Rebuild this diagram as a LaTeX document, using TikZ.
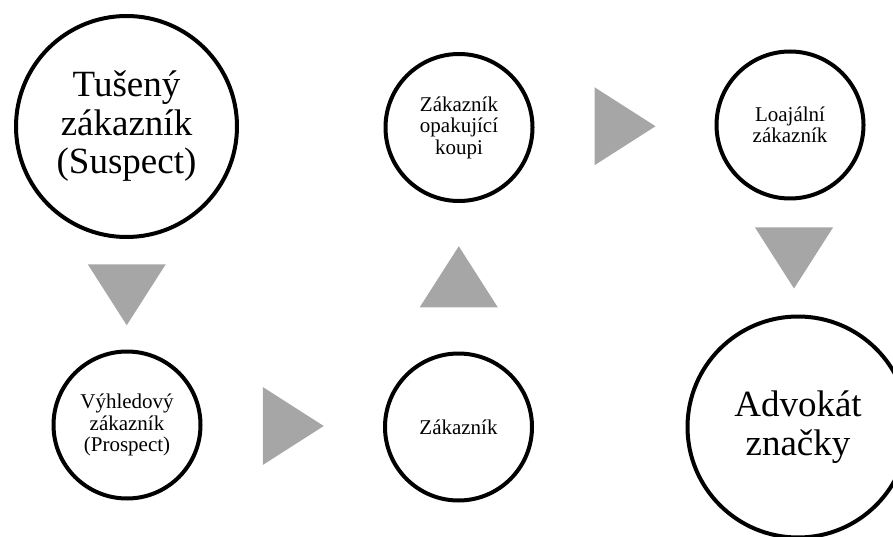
\documentclass[tikz,border=0pt]{standalone}
\usepackage{fontspec}
\setmainfont{Liberation Serif}
\usepackage{xcolor}
\usetikzlibrary{calc}
\definecolor{stepgray}{HTML}{A6A6A6}

\begin{document}
\begin{tikzpicture}[
    x=1pt, y=1pt,
    stage/.style={
      circle, draw, line width=4pt,
      inner sep=0pt, align=center, fill=white
    },
    bigstage/.style={
      stage, minimum size=221pt,
      font=\fontsize{37}{38.5}\selectfont
    },
    smallstage/.style={
      stage, minimum size=147pt,
      font=\fontsize{21}{21.5}\selectfont
    },
    pointer/.pic={
      \fill[stepgray] (-30,-39) -- (31,0) -- (-30,39) -- cycle;
    },
  ]

  % --- Canvas ---
  \useasboundingbox (0,0) rectangle (893,536);

  % --- Nodes ---
  \node[bigstage] (suspect) at (126.5, 409.5)
    {Tušený\\zákazník\\(Suspect)};
  \node[smallstage] (prospect) at (127, 111)
    {Výhledový\\zákazník\\(Prospect)};
  \node[smallstage] (customer) at (458.5, 109)
    {Zákazník};
  \node[smallstage] (repeat) at (459, 408.5)
    {Zákazník\\opakující\\koupi};
  \node[smallstage] (loyal) at (790, 411)
    {Loajální\\zákazník};
  \node[bigstage] (advocate) at (798, 109)
    {Advokát\\značky};

  % --- Pointers between stages ---
  \pic[rotate=-90] at ($(suspect.south)!0.5!(prospect.north)$) {pointer};
  \pic at ($(prospect.east)!0.5!(customer.west)$) {pointer};
  \pic[rotate=90] at ($(customer.north)!0.5!(repeat.south)$) {pointer};
  \pic at ($(repeat.east)!0.5!(loyal.west)$) {pointer};
  \pic[rotate=-90] at ($(loyal.south)!0.5!(advocate.north)$) {pointer};
\end{tikzpicture}
\end{document}
